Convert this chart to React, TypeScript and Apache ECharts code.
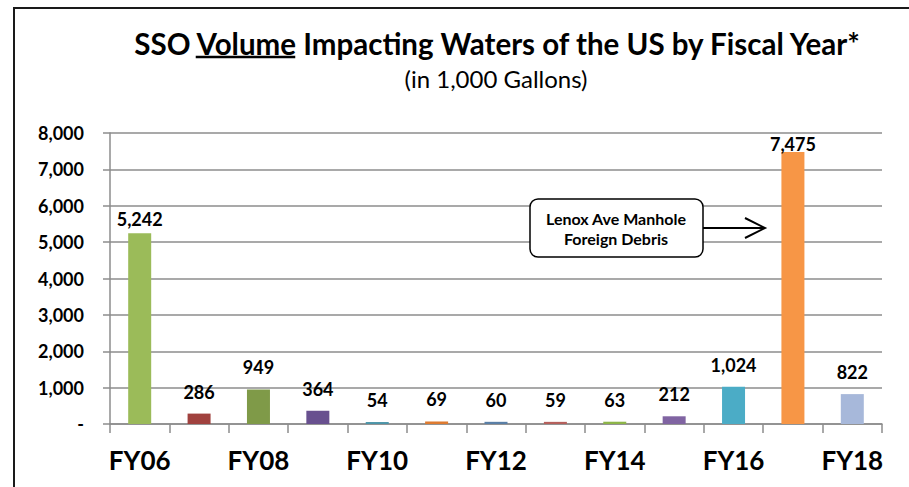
import React, { useEffect, useRef } from "react";
import * as echarts from "echarts";

const categories = ["FY06", "FY07", "FY08", "FY09", "FY10", "FY11", "FY12", "FY13", "FY14", "FY15", "FY16", "FY17", "FY18"];
const volumes = [5242, 286, 949, 364, 54, 69, 60, 59, 63, 212, 1024, 7475, 822];
const barColors = ["#9BBB59", "#A0413E", "#7F9A48", "#68508F", "#4B94A8", "#DE7B30", "#5A7FA6", "#B5605C", "#8DB548", "#8064A2", "#4BACC6", "#F79646", "#A7B8DA"];
const labelGaps = [5, 13, 13, 13, 13, 13, 13, 13, 13, 13, 13, -1, 13];
const yTicks = [0, 1000, 2000, 3000, 4000, 5000, 6000, 7000, 8000];

const titleBefore = "SSO ";
const titleUnder = "Volume";
const titleAfter = " Impacting Waters of the US by Fiscal Year*";
const subtitle = "(in 1,000 Gallons)";
const noteLines = ["Lenox Ave Manhole", "Foreign Debris"];

const FONT = "Lato, 'Noto Sans', sans-serif";
const fmt = (v: number) => (v === 0 ? "-" : v.toLocaleString("en-US"));

export default function App() {
  const ref = useRef<HTMLDivElement>(null);
  useEffect(() => {
    if (!ref.current) return;
    const chart = echarts.init(ref.current, null, { renderer: "svg" });
    const titleFont = `bold 29.5px ${FONT}`;
    const ctx = document.createElement("canvas").getContext("2d")!;
    ctx.font = titleFont;
    const wBefore = ctx.measureText(titleBefore).width;
    const wUnder = ctx.measureText(titleUnder).width;
    const wAll = ctx.measureText(titleBefore + titleUnder + titleAfter).width;
    const titleCx = 497;
    const titleLeft = titleCx - wAll / 2;
    const ulX1 = titleLeft + wBefore;
    const ulX2 = ulX1 + wUnder;

    chart.setOption({
      animation: false,
      backgroundColor: "#ffffff",
      grid: { left: 110, right: 27, top: 133, bottom: 63 },
      xAxis: {
        type: "category",
        data: categories,
        axisLine: { lineStyle: { color: "#8c8c8c", width: 1.5 } },
        axisTick: { show: true, interval: 0, length: 9, lineStyle: { color: "#8c8c8c", width: 1.5 } },
        axisLabel: { interval: 1, margin: 23, color: "#000", fontFamily: FONT, fontWeight: "bold", fontSize: 26 },
      },
      yAxis: {
        type: "value",
        min: 0,
        max: 8000,
        interval: 1000,
        axisLine: { show: true, lineStyle: { color: "#8c8c8c", width: 1.5 } },
        axisTick: { show: true, length: 7, lineStyle: { color: "#8c8c8c", width: 1.5 } },
        splitLine: { lineStyle: { color: "#8c8c8c", width: 1.5 } },
        axisLabel: {
          margin: 26,
          color: "#000",
          fontFamily: FONT,
          fontWeight: "bold",
          fontSize: 18,
          formatter: (v: number) => (yTicks.includes(v) ? fmt(v) : ""),
        },
      },
      series: [
        {
          type: "bar",
          barWidth: 23,
          data: volumes.map((v, i) => ({
            value: v,
            itemStyle: { color: barColors[i] },
            label: { distance: labelGaps[i] },
          })),
          label: {
            show: true,
            position: "top",
            color: "#000",
            fontFamily: FONT,
            fontWeight: "bold",
            fontSize: 18,
            formatter: (p: any) => fmt(p.value),
          },
        },
      ],
      graphic: [
        { type: "rect", shape: { x: 14, y: 8, width: 1000, height: 1000 }, style: { fill: "none", stroke: "#1a1a1a", lineWidth: 2 }, z: 100 },
        {
          type: "text",
          x: titleCx,
          y: 43,
          style: { text: titleBefore + titleUnder + titleAfter, font: titleFont, fill: "#000", align: "center", verticalAlign: "middle" },
        },
        { type: "line", shape: { x1: ulX1, y1: 57, x2: ulX2, y2: 57 }, style: { stroke: "#000", lineWidth: 2.5 } },
        {
          type: "text",
          x: 496,
          y: 78,
          style: { text: subtitle, font: `24px ${FONT}`, fill: "#000", align: "center", verticalAlign: "middle" },
        },
        { type: "rect", shape: { x: 530, y: 199, width: 173, height: 58, r: 8 }, style: { fill: "#fff", stroke: "#000", lineWidth: 1.5 }, z: 50 },
        {
          type: "text",
          x: 616,
          y: 228,
          z: 51,
          style: { text: noteLines.join("\n"), font: `bold 16px ${FONT}`, lineHeight: 20, fill: "#000", align: "center", verticalAlign: "middle" },
        },
        { type: "line", shape: { x1: 703, y1: 228, x2: 764, y2: 228 }, style: { stroke: "#000", lineWidth: 2 }, z: 50 },
        { type: "polyline", shape: { points: [[745, 218], [765, 228], [745, 238]] }, style: { fill: "none", stroke: "#000", lineWidth: 2 }, z: 50 },
      ],
    });
    return () => chart.dispose();
  }, []);
  return <div ref={ref} style={{ position: "fixed", left: 0, top: 0, width: 909, height: 487 }} />;
}
